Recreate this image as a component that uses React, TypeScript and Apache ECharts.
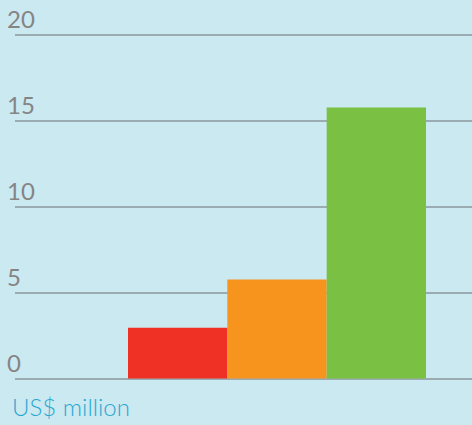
import React, { useEffect, useRef } from "react";
import * as echarts from "echarts";

const categories = ["A", "B", "C"];
const values = [2.95, 5.75, 15.75];
const barColors = ["#ee3124", "#f7941e", "#7ac143"];
const yTicks = [0, 5, 10, 15, 20];
const unitLabel = "US$ million";

export default function App() {
  const ref = useRef<HTMLDivElement>(null);
  useEffect(() => {
    const chart = echarts.init(ref.current!, null, { renderer: "svg" });
    const top = 34.5;
    const bottom = 425 - 378.5;
    chart.setOption({
      animation: false,
      backgroundColor: "#cbe9f1",
      grid: [
        { left: 15, right: 0, top, bottom },
        { left: 128, right: 46, top, bottom },
      ],
      xAxis: [
        { type: "value", gridIndex: 0, show: false, min: 0, max: 1 },
        {
          type: "category",
          gridIndex: 1,
          data: categories,
          show: false,
        },
      ],
      yAxis: [
        {
          type: "value",
          gridIndex: 0,
          min: yTicks[0],
          max: yTicks[yTicks.length - 1],
          interval: 5,
          axisLine: { show: false },
          axisTick: { show: false },
          splitLine: { show: true, lineStyle: { color: "#8a979c", width: 1.5 } },
          axisLabel: {
            show: true,
            color: "#858585",
            fontFamily: "Lato",
            fontWeight: "normal",
            fontSize: 24,
            align: "left",
            verticalAlign: "bottom",
            margin: 8,
            padding: [0, 0, 4, 0],
          },
        },
        {
          type: "value",
          gridIndex: 1,
          min: 0,
          max: 20,
          show: false,
        },
      ],
      graphic: [
        {
          type: "text",
          left: 12,
          top: 394,
          style: {
            text: unitLabel,
            fill: "#2aa7d0",
            font: "300 24px Lato",
          },
        },
      ],
      series: [
        {
          type: "bar",
          xAxisIndex: 1,
          yAxisIndex: 1,
          barCategoryGap: 0,
          data: values.map((v, i) => ({ value: v, itemStyle: { color: barColors[i] } })),
          z: 3,
        },
      ],
    });
    return () => chart.dispose();
  }, []);
  return <div ref={ref} style={{ width: 472, height: 425, position: "absolute", left: 0, top: 0 }} />;
}
